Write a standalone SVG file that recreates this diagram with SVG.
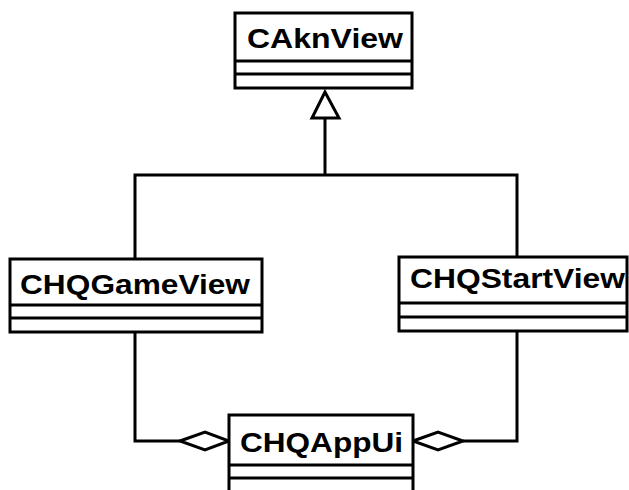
<svg xmlns="http://www.w3.org/2000/svg" width="629" height="490" viewBox="0 0 629 490">
<style>
.box{fill:#fff;stroke:#000;stroke-width:3}
.ln{fill:none;stroke:#000;stroke-width:3}
.t{font-family:"Liberation Sans",Arial,sans-serif;font-weight:bold;font-size:28px;fill:#000}
</style>
<rect width="629" height="490" fill="#fff"/>
<g id="connectors">
<polyline class="ln" points="325,118 325,175"/>
<polyline class="ln" points="135,259 135,175 517,175 517,257"/>
<polygon class="ln" style="fill:#fff" points="325,92 312,118 339,118"/>
<polyline class="ln" points="135,332 135,441 180,441"/>
<polygon class="ln" style="fill:#fff" points="180,441 205,432 229,441 205,450"/>
<polyline class="ln" points="517,331 517,441 463,441"/>
<polygon class="ln" style="fill:#fff" points="413,441 438,432 463,441 438,450"/>
</g>
<g id="CAknView">
<rect class="box" x="235" y="13" width="177" height="75"/>
<line class="ln" x1="235" y1="61" x2="412" y2="61"/>
<line class="ln" x1="235" y1="74" x2="412" y2="74"/>
<text class="t" x="247" y="48" textLength="156" lengthAdjust="spacingAndGlyphs">CAknView</text>
</g>
<g id="CHQGameView">
<rect class="box" x="10" y="259" width="252" height="73"/>
<line class="ln" x1="10" y1="305" x2="262" y2="305"/>
<line class="ln" x1="10" y1="318" x2="262" y2="318"/>
<text class="t" x="20" y="294" textLength="230" lengthAdjust="spacingAndGlyphs">CHQGameView</text>
</g>
<g id="CHQStartView">
<rect class="box" x="399" y="257" width="228" height="74"/>
<line class="ln" x1="399" y1="303" x2="627" y2="303"/>
<line class="ln" x1="399" y1="317" x2="627" y2="317"/>
<text class="t" x="410" y="288" textLength="215" lengthAdjust="spacingAndGlyphs">CHQStartView</text>
</g>
<g id="CHQAppUi">
<rect class="box" x="229" y="415" width="184" height="90"/>
<line class="ln" x1="229" y1="465" x2="413" y2="465"/>
<line class="ln" x1="229" y1="478" x2="413" y2="478"/>
<text class="t" x="240" y="452" textLength="163" lengthAdjust="spacingAndGlyphs">CHQAppUi</text>
</g>
</svg>
